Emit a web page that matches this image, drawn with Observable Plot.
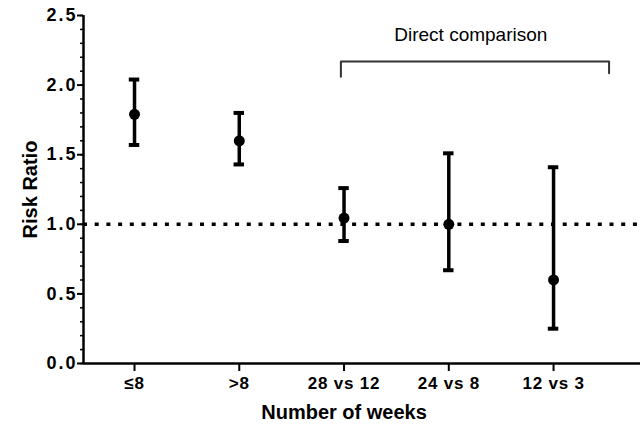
<!DOCTYPE html>
<html><head><meta charset="utf-8">
<script src="https://cdn.jsdelivr.net/npm/d3@7"></script>
<script src="https://cdn.jsdelivr.net/npm/@observablehq/plot@0.6"></script>
<style>
body{margin:0;background:#fff}
svg{font-family:"Liberation Sans",Arial,Helvetica,sans-serif}
g[aria-label="y-axis tick label"] text{font-size:18px;font-weight:bold;letter-spacing:2px}
g[aria-label="x-axis tick label"] text{font-size:17px;font-weight:bold;letter-spacing:0.8px}
</style>
</head><body><div id="chart"></div>
<script>
const categories = ["≤8", ">8", "28 vs 12", "24 vs 8", "12 vs 3"];
const riskRatio = [1.79, 1.60, 1.045, 1.0, 0.60];
const lower = [1.57, 1.43, 0.88, 0.67, 0.25];
const upper = [2.04, 1.80, 1.26, 1.51, 1.41];
const yTicks = [0, 0.5, 1.0, 1.5, 2.0, 2.5];
const yMinorTicks = d3.range(0, 26).map(k => k / 10);
const referenceLine = 1.0;
const bracketLabel = "Direct comparison";
const bracketX = [1.97, 4.53];
const bracketY = [2.06, 2.17, 2.085];
const bracketLabelPos = {x: 3.21, y: 2.36};
const xLabel = "Number of weeks";
const yLabel = "Risk Ratio";
const yLabelPos = {x: -0.99, y: 1.25};

const data = categories.map((c, i) => ({i, c, rr: riskRatio[i], lo: lower[i], hi: upper[i]}));
const capHalf = 0.05;
const bracket = [
  {x: bracketX[0], y: bracketY[0]},
  {x: bracketX[0], y: bracketY[1]},
  {x: bracketX[1], y: bracketY[1]},
  {x: bracketX[1], y: bracketY[2]}
];
const xDomain = [-0.487, 4.83];

const chart = Plot.plot({
  width: 643, height: 432,
  marginLeft: 83, marginRight: 3, marginTop: 15, marginBottom: 69,
  x: {domain: xDomain},
  y: {domain: [0, 2.5]},
  marks: [
    Plot.ruleY([referenceLine], {strokeWidth: 3.5, strokeDasharray: "4,7.7", stroke: "black"}),
    Plot.ruleX(data, {x: "i", y1: "lo", y2: "hi", strokeWidth: 3.5, stroke: "black"}),
    Plot.ruleY(data, {y: "hi", x1: d => d.i - capHalf, x2: d => d.i + capHalf, strokeWidth: 4, stroke: "black"}),
    Plot.ruleY(data, {y: "lo", x1: d => d.i - capHalf, x2: d => d.i + capHalf, strokeWidth: 4, stroke: "black"}),
    Plot.dot(data, {x: "i", y: "rr", r: 5.5, fill: "black", stroke: "none"}),
    Plot.axisY({ticks: yMinorTicks, tickSize: 3, tickFormat: () => "", label: null, strokeWidth: 1.5}),
    Plot.axisY({ticks: yTicks, tickSize: 6, tickPadding: 0, tickFormat: d3.format(".1f"), label: null,
      fontSize: 18, fontWeight: "bold", strokeWidth: 2}),
    Plot.axisX({ticks: [0, 1, 2, 3, 4], tickFormat: i => categories[i], tickSize: 8, tickPadding: 5, label: null,
      fontSize: 17, fontWeight: "bold", strokeWidth: 2}),
    Plot.ruleX([xDomain[0]], {strokeWidth: 2.5, stroke: "black"}),
    Plot.ruleY([0], {strokeWidth: 2.5, stroke: "black"}),
    Plot.line(bracket, {x: "x", y: "y", stroke: "#333", strokeWidth: 2}),
    Plot.text([bracketLabelPos], {x: "x", y: "y", text: () => bracketLabel, fontSize: 19, fill: "black"}),
    Plot.text([xLabel], {x: 2, frameAnchor: "bottom", dy: 55, fontSize: 20, fontWeight: "bold", fill: "black"}),
    Plot.text([yLabelPos], {x: "x", y: "y", text: () => yLabel, rotate: -90, fontSize: 20, fontWeight: "bold", fill: "black"})
  ]
});
document.getElementById("chart").appendChild(chart);
</script>
</body></html>
